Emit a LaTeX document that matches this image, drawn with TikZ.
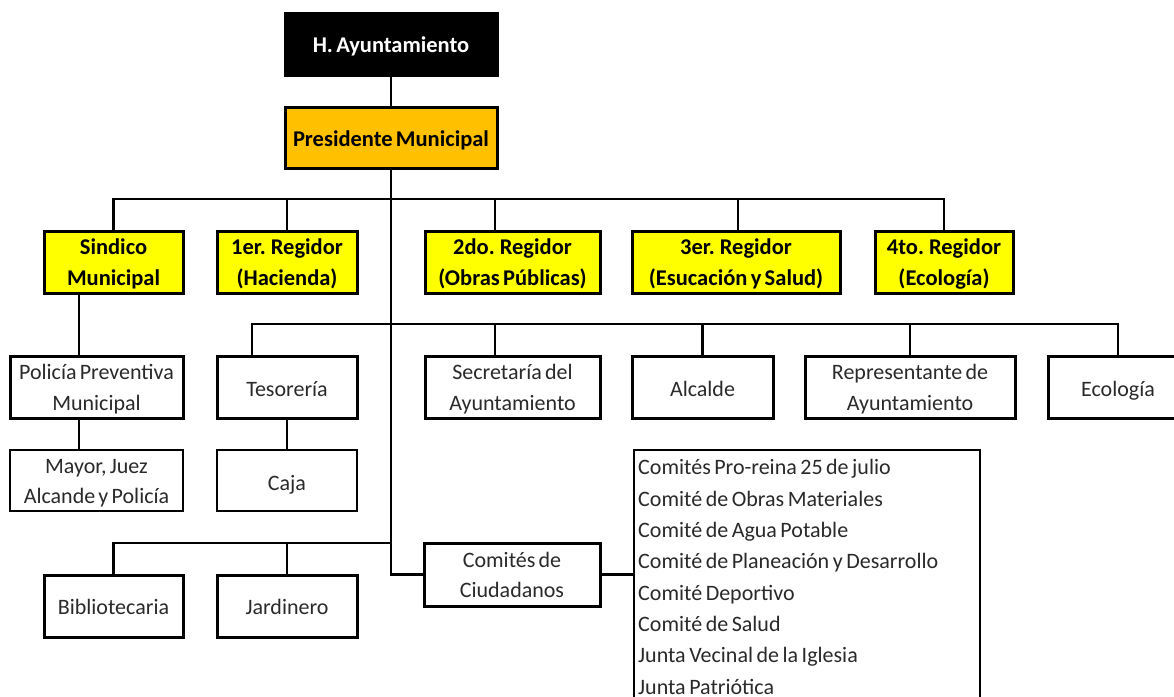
\documentclass[tikz,border=0pt]{standalone}
\usepackage{fontspec}
\setmainfont{Carlito}[WordSpace=0.65]
\definecolor{orangeM}{HTML}{FFC000}
\definecolor{yellowM}{HTML}{FFFF00}
\definecolor{txtgray}{HTML}{2A2A2A}
\begin{document}
\begin{tikzpicture}[x=1pt,y=-1pt,
  basebox/.style={draw=black, align=center, inner sep=0pt, font=\fontsize{22}{30.5}\selectfont},
  one/.style={text height=17pt, text depth=0pt},
  onelow/.style={text height=19pt, text depth=0pt},
  two/.style={text height=46pt, text depth=0pt},
  topbox/.style={basebox, line width=3pt, fill=black, text=white, font=\fontsize{22.5}{30.5}\selectfont\bfseries},
  presbox/.style={basebox, line width=3pt, fill=orangeM, font=\fontsize{22.5}{30.5}\selectfont\bfseries},
  regbox/.style={basebox, line width=3pt, fill=yellowM, font=\fontsize{22.5}{30.5}\selectfont\bfseries},
  unitbox/.style={basebox, line width=3pt, fill=white, text=txtgray},
  thinbox/.style={basebox, line width=2.4pt, fill=white, text=txtgray},
  listbox/.style={draw=black, line width=2.4pt, fill=white, text=txtgray, align=left, inner xsep=4pt, inner ysep=9.5pt, font={\fontsize{22}{31.3}\selectfont}},
  conn/.style={line width=2.4pt, line cap=rect}
]
\useasboundingbox (0,0) rectangle (1174,696);
\fill[white] (0,0) rectangle (1174,696);
\clip (0,0) rectangle (1174,696);

% level 0 and 1
\node[topbox, one, minimum width=212, minimum height=62] (ha) at (391,44) {H. Ayuntamiento};
\node[presbox, one, minimum width=212, minimum height=61] (pm) at (391,137.5) {Presidente Municipal};

% level 2
\node[regbox, two, minimum width=139, minimum height=62] (sm) at (113.5,262) {Sindico\\Municipal};
\node[regbox, two, minimum width=140, minimum height=62] (r1) at (287,262) {1er. Regidor\\(Hacienda)};
\node[regbox, two, minimum width=175, minimum height=62] (r2) at (512.5,262) {2do. Regidor\\(Obras Públicas)};
\node[regbox, two, minimum width=208, minimum height=62] (r3) at (736,262) {3er. Regidor\\(Esucación y Salud)};
\node[regbox, two, minimum width=138, minimum height=62] (r4) at (944,262) {4to. Regidor\\(Ecología)};

% level 3
\node[unitbox, two, minimum width=173, minimum height=62] (pol) at (96.5,387) {Policía Preventiva\\Municipal};
\node[thinbox, two, minimum width=173, minimum height=61] (may) at (96.5,480.5) {Mayor, Juez\\Alcande y Policía};
\node[unitbox, onelow, minimum width=140, minimum height=62] (tes) at (287,387) {Tesorería};
\node[thinbox, onelow, minimum width=140, minimum height=61] (caja) at (287,480.5) {Caja};
\node[unitbox, two, minimum width=175, minimum height=62] (sec) at (512.5,387) {Secretaría del\\Ayuntamiento};
\node[unitbox, onelow, minimum width=141, minimum height=62] (alc) at (702.5,387) {Alcalde};
\node[unitbox, two, minimum width=210, minimum height=62] (rep) at (910,387) {Representante de\\Ayuntamiento};
\node[unitbox, onelow, minimum width=140, minimum height=62] (eco) at (1118,387) {Ecología};

% bottom
\node[unitbox, one, minimum width=139, minimum height=62] (bib) at (113.5,606) {Bibliotecaria};
\node[unitbox, one, minimum width=140, minimum height=62] (jar) at (287,606) {Jardinero};
\node[unitbox, two, minimum width=176, minimum height=63] (cc) at (512,574.5) {Comités de\\Ciudadanos};
\node[listbox, anchor=north west, text width=338pt] (list) at (633,449) {\spaceskip=0.16em\relax Comités Pro-reina 25 de julio\\Comité de Obras Materiales\\Comité de Agua Potable\\Comité de Planeación y Desarrollo\\Comité Deportivo\\Comité de Salud\\Junta Vecinal de la Iglesia\\Junta Patriótica};

% junction points
\coordinate (j1) at (391,199);
\coordinate (j2) at (391,324);
\coordinate (j3) at (391,543);

% connectors
\draw[conn] (ha.south) -- (pm.north);
\draw[conn] (pm.south) |- (cc.west);
\draw[conn] (sm.north) |- (j1);
\draw[conn] (r1.north) |- (j1);
\draw[conn] ([xshift=-17.5pt]r2.north) |- (j1);
\draw[conn] ([xshift=2pt]r3.north) |- (j1);
\draw[conn] (r4.north) |- (j1);

\draw[conn] ([xshift=-35pt]tes.north) |- (j2);
\draw[conn] ([xshift=-17.5pt]sec.north) |- (j2);
\draw[conn] (alc.north) |- (j2);
\draw[conn] (rep.north) |- (j2);
\draw[conn] (eco.north) |- (j2);

\draw[conn] (bib.north) |- (j3);
\draw[conn] (jar.north) |- (j3);

\draw[conn] ([xshift=-34.5pt]sm.south) -- ([xshift=-17.5pt]pol.north);
\draw[conn] ([xshift=-17.5pt]pol.south) -- ([xshift=-17.5pt]may.north);
\draw[conn] (tes.south) -- (caja.north);
\draw[conn] (cc.east) -- (cc.east -| list.west);
\end{tikzpicture}
\end{document}
